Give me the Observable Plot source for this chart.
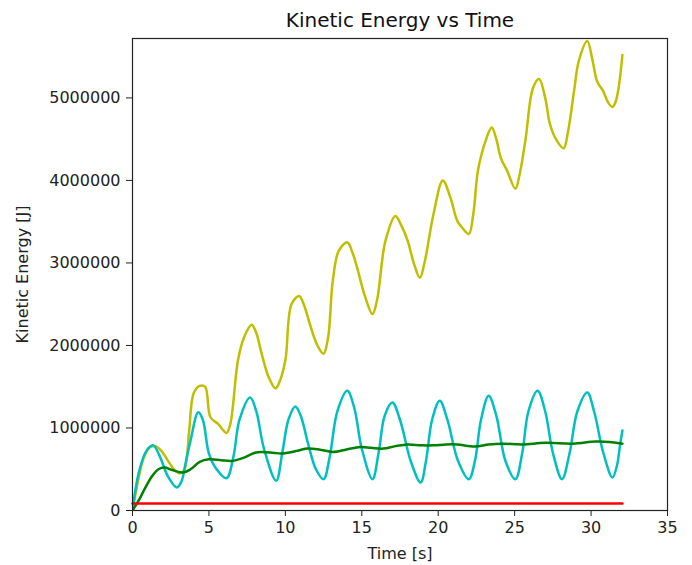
<!DOCTYPE html>
<html>
<head>
<meta charset="utf-8">
<script src="https://cdn.jsdelivr.net/npm/d3@7"></script>
<script src="https://cdn.jsdelivr.net/npm/@observablehq/plot@0.6"></script>
<style>
  body { margin: 0; background: #fff; }
</style>
</head>
<body>
<div id="chart"></div>
<script>
const title = "Kinetic Energy vs Time";
const xLabel = "Time [s]";
const yLabel = "Kinetic Energy [J]";
const xTicks = [0, 5, 10, 15, 20, 25, 30, 35];
const yTicks = [0, 1000000, 2000000, 3000000, 4000000, 5000000];

// Series values (time in s, energy in MJ)
const yellowT = [0,0.3,0.7,1.1,1.5,1.9,2.4,2.8,3.1,3.4,3.7,4.0,4.4,4.75,5.1,5.6,6.15,6.4,6.9,7.3,7.8,8.1,8.45,8.9,9.35,9.6,10.0,10.4,10.9,11.2,11.6,12.1,12.5,12.8,13.1,13.5,14.05,14.4,14.7,15.2,15.7,16.0,16.55,17.2,17.6,18.0,18.4,18.8,19.1,19.7,20.3,20.8,21.25,21.6,22.0,22.3,22.6,23.1,23.5,23.8,24.1,24.5,25.05,25.3,25.7,26.2,26.6,27.0,27.3,27.7,28.2,28.5,28.9,29.2,29.75,30.1,30.4,30.8,31.1,31.4,31.6,31.8,32.05];
const yellowMJ = [0,0.3,0.62,0.76,0.78,0.72,0.58,0.48,0.45,0.5,0.95,1.42,1.51,1.5,1.13,1.05,0.94,1.05,1.82,2.1,2.25,2.15,1.9,1.62,1.48,1.55,1.82,2.5,2.6,2.5,2.26,2.0,1.9,2.1,2.78,3.15,3.25,3.12,2.94,2.6,2.38,2.55,3.27,3.57,3.45,3.27,3.0,2.82,3.0,3.6,4.0,3.79,3.51,3.42,3.35,3.6,4.12,4.48,4.64,4.5,4.27,4.12,3.9,4.05,4.48,5.12,5.23,5.0,4.69,4.5,4.39,4.6,5.1,5.45,5.69,5.45,5.2,5.08,4.95,4.89,4.95,5.12,5.52];

const cyanT = [0,0.4,0.9,1.35,1.8,2.3,2.9,3.2,3.5,3.8,4.3,4.6,5.0,5.5,6.15,6.6,7.0,7.7,8.1,8.6,9.4,9.8,10.2,10.65,11.0,11.5,12.0,12.5,12.9,13.4,14.05,14.5,15.0,15.7,16.1,16.5,17.0,17.5,18.2,18.85,19.2,19.6,20.1,20.6,21.3,22.0,22.4,22.8,23.3,23.8,24.4,25.05,25.5,25.9,26.5,27.0,27.5,28.1,28.6,29.1,29.75,30.2,30.8,31.4,31.7,31.9,32.05];
const cyanMJ = [0,0.45,0.72,0.79,0.65,0.42,0.28,0.35,0.6,0.85,1.19,1.1,0.69,0.5,0.39,0.65,1.1,1.37,1.2,0.75,0.36,0.7,1.1,1.26,1.15,0.8,0.5,0.38,0.65,1.2,1.45,1.25,0.75,0.38,0.7,1.15,1.31,1.1,0.6,0.34,0.6,1.1,1.33,1.1,0.6,0.38,0.6,1.1,1.39,1.15,0.6,0.38,0.7,1.2,1.45,1.2,0.7,0.38,0.7,1.2,1.43,1.2,0.7,0.4,0.55,0.8,0.97];

const greenT = [0,0.4,0.85,1.3,1.7,2.1,2.6,3.3,3.8,4.4,5.0,5.8,6.5,7.3,8.0,8.45,9.2,9.75,10.7,11.4,12.2,13.1,14.0,14.9,15.6,16.4,17.2,18.0,18.9,19.7,20.5,21.25,22.4,23.3,24.2,25.5,27.0,28.8,30.3,31.2,32.05];
const greenMJ = [0,0.12,0.28,0.42,0.5,0.52,0.49,0.46,0.5,0.59,0.62,0.61,0.6,0.64,0.7,0.71,0.7,0.69,0.72,0.75,0.74,0.71,0.74,0.77,0.76,0.75,0.78,0.8,0.79,0.79,0.8,0.8,0.775,0.8,0.81,0.8,0.82,0.81,0.835,0.83,0.81];

const redT = [0, 32.05];
const redMJ = [0.085, 0.085];

const seriesColors = { yellow: "#bfbf00", cyan: "#00bfbf", green: "#008000", red: "#ff0000" };

function toRows(ts, vs) { return ts.map((t, i) => ({ t, v: vs[i] * 1e6 })); }
const yellow = toRows(yellowT, yellowMJ);
const cyan = toRows(cyanT, cyanMJ);
const green = toRows(greenT, greenMJ);
const red = toRows(redT, redMJ);

const chart = Plot.plot({
  width: 692,
  height: 565,
  marginLeft: 132,
  marginRight: 25,
  marginTop: 38,
  marginBottom: 55,
  style: { fontFamily: "DejaVu Sans", fontSize: "16px", color: "#222", background: "#fff" },
  x: { domain: [0, 35] },
  y: { domain: [0, 5.72e6] },
  marks: [
    Plot.line(yellow, { x: "t", y: "v", stroke: seriesColors.yellow, strokeWidth: 2.5, curve: "catmull-rom", clip: true }),
    Plot.line(cyan, { x: "t", y: "v", stroke: seriesColors.cyan, strokeWidth: 2.5, curve: "catmull-rom", clip: true }),
    Plot.line(green, { x: "t", y: "v", stroke: seriesColors.green, strokeWidth: 2.5, curve: "catmull-rom", clip: true }),
    Plot.line(red, { x: "t", y: "v", stroke: seriesColors.red, strokeWidth: 2.5 }),
    Plot.frame({ stroke: "#222", strokeWidth: 1.2 }),
    Plot.axisX({ ticks: xTicks, tickSize: 6, tickPadding: 5, label: xLabel, labelAnchor: "center", labelArrow: "none", labelOffset: 48, fontSize: 16 }),
    Plot.axisY({ ticks: yTicks, tickSize: 6, tickPadding: 6, tickFormat: d3.format("d"), label: yLabel, labelAnchor: "center", labelArrow: "none", labelOffset: 116, fontSize: 16 }),
    Plot.text([title], { frameAnchor: "top", lineAnchor: "middle", dy: -18, fontSize: 20, fill: "#111" })
  ]
});
document.getElementById("chart").appendChild(chart);
</script>
</body>
</html>
